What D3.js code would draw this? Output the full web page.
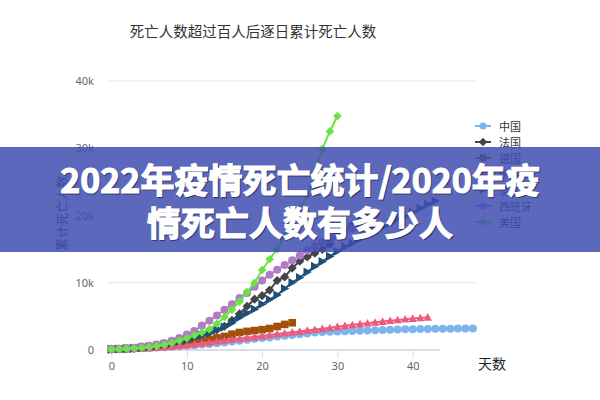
<!DOCTYPE html>
<html>
<head>
<meta charset="utf-8">
<script src="https://cdn.jsdelivr.net/npm/d3@7/dist/d3.min.js"></script>
<style>
  html, body { margin: 0; padding: 0; background: #fff; }
  svg { display: block; font-family: "Noto Sans CJK SC", "Noto Sans", sans-serif; }
</style>
</head>
<body>
<svg id="chart" width="600" height="400"></svg>
<script>
// ---- data (day index = position in array, day 0 = first day above 100 deaths) ----
const seriesNames = ["中国", "法国", "德国", "伊朗", "意大利", "西班牙", "美国"];
const chinaDeaths = [106,132,170,213,259,304,361,425,490,563,636,722,811,908,1016,1113,1259,1380,1523,1665,1770,1868,2004,2118,2236,2345,2442,2592,2663,2715,2744,2788,2835,2870,2912,2943,2981,3012,3042,3073,3097,3120,3136,3158,3169,3176,3189,3199,3213];
const franceDeaths = [127,148,175,243,450,562,674,860,1100,1331,1696,1995,2314,2606,3024,3523,4403,5387,6507,7560,8078,8911,10328,10869,12210,13197,13832,14393,14967,15729,17167,17920,18681,19323,19718,20265];
const germanyDeaths = [123,157,206,267,342,433,533,645,775,920,1107,1275,1444,1584,1810,2016,2349,2607,2767,2891,3022,3194,3495,3804,4052];
const iranDeaths = [107,124,145,194,237,291,354,429,514,611,724,853,988,1135,1284,1433,1556,1685,1812,1934,2077,2234,2378,2517,2640,2757,2898,3036,3160,3294,3452,3603,3739,3872,3993,4110,4232,4357,4474,4585,4683,4777,4869];
const italyDeaths = [107,148,197,233,366,463,631,827,1016,1266,1441,1809,2158,2503,2978,3405,4032,4825,5476,6077,6820,7503,8165,9134,10023,10779,11591,12428,13155,13915,14681,15362,15887,16523,17127,17669,18279,18849,19468,19899,20465,21067,21645,22170];
const spainDeaths = [133,195,289,342,533,623,830,1043,1375,1772,2311,2808,3647,4365,5138,5982,6803,7716,8464,9387,10348,11198,11947,12641,13341,14045,14792,15447,16081,16606,17209,17756,18056,18708,19315,20002];
const usDeaths = [100,150,200,260,340,450,580,780,1050,1400,1750,2200,2600,3100,3900,4900,6000,7200,8600,10000,11900,13500,15000,17000,19000,21000,23000,26500,29900,32500,34800];
const yTicks = [0, 10000, 20000, 30000, 40000];
const xTicks = [0, 10, 20, 30, 40];
const titleText = "死亡人数超过百人后逐日累计死亡人数";
const yTitle = "累计死亡人数";
const xTitle = "天数";
const bannerLines = ["2022年疫情死亡统计/2020年疫", "情死亡人数有多少人"];

// ---- styles ----
const seriesData = [chinaDeaths, franceDeaths, germanyDeaths, iranDeaths, italyDeaths, spainDeaths, usDeaths];
const colors = ["#7cb5ec", "#434348", "#a0500a", "#ee5a7e", "#1d4f78", "#b07cc6", "#6be344"];
const symbols = ["circle", "diamond", "square", "triangle", "triangleRight", "circle", "diamond"];

const svg = d3.select("#chart");

const x = d3.scaleLinear().domain([0, 40]).range([111.5, 412.7]);
const y = d3.scaleLinear().domain([0, 40000]).range([350, 81]);

// title
svg.append("text").attr("x", 253).attr("y", 30)
  .attr("text-anchor", "middle").attr("dominant-baseline", "central")
  .attr("font-size", 14.5).attr("fill", "#333").text(titleText);

// grid lines
const gridRight = 477;
svg.append("g").selectAll("line").data(yTicks.filter(d => d > 0)).join("line")
  .attr("x1", 108).attr("x2", gridRight)
  .attr("y1", d => y(d)).attr("y2", d => y(d))
  .attr("stroke", "#e6e6e6").attr("stroke-width", 1);

// y axis labels
const yAxis = d3.axisLeft(y).tickValues(yTicks)
  .tickFormat(d => d === 0 ? "0" : (d / 1000) + "k").tickSize(0).tickPadding(0);
const gy = svg.append("g").attr("transform", "translate(94,0)").call(yAxis);
gy.select(".domain").remove();
gy.selectAll("text").attr("font-size", 11).attr("fill", "#666")
  .attr("font-family", "'Noto Sans', sans-serif");

// x axis
const xAxis = d3.axisBottom(x).tickValues(xTicks).tickFormat(d3.format("d")).tickSize(8).tickPadding(4);
const gx = svg.append("g").attr("transform", `translate(0,${y(0)})`).call(xAxis);
gx.select(".domain").remove();
gx.selectAll(".tick line").attr("stroke", "#d8dde8");
gx.selectAll("text").attr("font-size", 11).attr("fill", "#666")
  .attr("font-family", "'Noto Sans', sans-serif");
svg.append("line").attr("x1", 108).attr("x2", 440).attr("y1", y(0)).attr("y2", y(0))
  .attr("stroke", "#d8dde8").attr("stroke-width", 2);

// axis titles
svg.append("text").attr("x", 478).attr("y", 363)
  .attr("dominant-baseline", "central").attr("font-size", 14).attr("fill", "#222").text(xTitle);
svg.append("text").attr("transform", "translate(61,213) rotate(-90)")
  .attr("text-anchor", "middle").attr("dominant-baseline", "central")
  .attr("font-size", 12.5).attr("fill", "#333").text(yTitle);

// symbol path generator
function symbolPath(type, s) {
  switch (type) {
    case "circle": return d3.symbol(d3.symbolCircle, s * s * Math.PI)();
    case "square": return `M${-s},${-s}H${s}V${s}H${-s}Z`;
    case "diamond": return `M0,${-s * 1.2}L${s * 1.2},0L0,${s * 1.2}L${-s * 1.2},0Z`;
    case "triangle": return `M0,${-s * 1.1}L${s * 1.1},${s * 0.9}L${-s * 1.1},${s * 0.9}Z`;
    case "triangleRight": return `M${s * 1.1},0L${-s * 0.9},${s * 1.1}L${-s * 0.9},${-s * 1.1}Z`;
  }
}
const markerSize = [4, 3.8, 3.8, 3.8, 4.2, 4, 3.6];

const line = d3.line().x((d, i) => x(i)).y(d => y(d));

seriesData.forEach((data, k) => {
  const g = svg.append("g");
  g.append("path").datum(data).attr("d", line)
    .attr("fill", "none").attr("stroke", colors[k]).attr("stroke-width", 2);
  g.selectAll("path.m").data(data).join("path").attr("class", "m")
    .attr("transform", (d, i) => `translate(${x(i)},${y(d)})`)
    .attr("d", symbolPath(symbols[k], markerSize[k]))
    .attr("fill", colors[k]);
});

// legend
const legend = svg.append("g").selectAll("g").data(seriesNames).join("g")
  .attr("transform", (d, i) => `translate(483,${126 + i * 16})`);
legend.append("line").attr("x1", -8).attr("x2", 8)
  .attr("stroke", (d, i) => colors[i]).attr("stroke-width", 2);
legend.append("path").attr("d", (d, i) => symbolPath(symbols[i], 3.5))
  .attr("fill", (d, i) => colors[i]);
legend.append("text").attr("x", 16).attr("dominant-baseline", "central")
  .attr("font-size", 11).attr("fill", "#333").text(d => d);

// overlay banner
svg.append("rect").attr("x", 0).attr("y", 147).attr("width", 600).attr("height", 105)
  .attr("fill", "#3f4db0").attr("fill-opacity", 0.85);
const bannerText = svg.append("g");
// soft shadow copy
bannerText.selectAll("text.s").data(bannerLines).join("text").attr("class", "s")
  .attr("x", 301).attr("y", (d, i) => 179 + i * 43)
  .attr("text-anchor", "middle").attr("dominant-baseline", "central")
  .attr("font-size", 34).attr("font-weight", 700).attr("fill", "rgba(20,20,50,0.45)")
  .attr("stroke", "rgba(20,20,50,0.45)").attr("stroke-width", 1.4)
  .attr("font-family", "'Noto Sans CJK SC', sans-serif")
  .text(d => d);
bannerText.selectAll("text.t").data(bannerLines).join("text").attr("class", "t")
  .attr("x", 300).attr("y", (d, i) => 178 + i * 43)
  .attr("text-anchor", "middle").attr("dominant-baseline", "central")
  .attr("font-size", 34).attr("font-weight", 700).attr("fill", "#fff")
  .attr("stroke", "#fff").attr("stroke-width", 1.2)
  .attr("font-family", "'Noto Sans CJK SC', sans-serif")
  .text(d => d);
</script>
</body>
</html>
